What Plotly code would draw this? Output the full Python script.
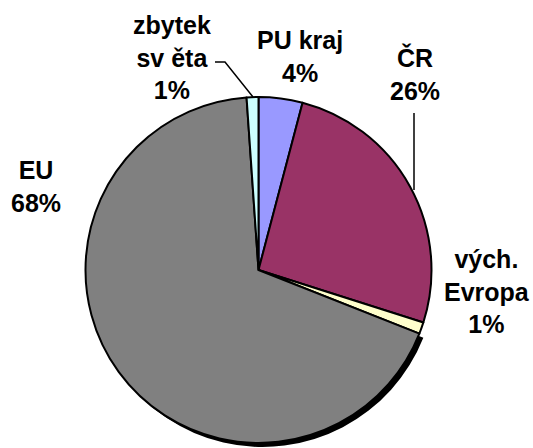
import plotly.graph_objects as go

labels = ["PU kraj", "ČR", "vých. Evropa", "EU", "zbytek světa"]
values = [4.1, 25.8, 1.1, 67.9, 1.1]
pct_labels = ["4%", "26%", "1%", "68%", "1%"]
colors = ["#9999FF", "#993366", "#FFFFCC", "#808080", "#CCFFFF"]
shadow_colors = ["rgba(0,0,0,0)", "rgba(0,0,0,0)", "rgba(0,0,0,0)", "#000000", "rgba(0,0,0,0)"]
label_text = ["PU kraj", "ČR", "vých.<br>Evropa", "EU", "zbytek<br>sv ěta"]

W, H = 533, 448
cx, cy, r = 258.5, 270, 173
sh = 4  # shadow offset px


def px_x(x):
    return x / W


def px_y(y):
    return 1 - y / H


fig = go.Figure()
# shadow pie (only EU slice casts a shadow)
fig.add_trace(go.Pie(
    labels=labels, values=values, sort=False, direction="clockwise", rotation=0,
    marker=dict(colors=shadow_colors, line=dict(width=0)),
    textinfo="none", hoverinfo="skip", showlegend=False,
    domain=dict(x=[px_x(cx - r + sh), px_x(cx + r + sh)], y=[px_y(cy + r + sh), px_y(cy - r + sh)]),
))
fig.add_trace(go.Pie(
    labels=labels, values=values, sort=False, direction="clockwise", rotation=0,
    marker=dict(colors=colors, line=dict(color="#000000", width=2)),
    textinfo="none", showlegend=False,
    domain=dict(x=[px_x(cx - r), px_x(cx + r)], y=[px_y(cy + r), px_y(cy - r)]),
))

font = dict(family="Liberation Sans, Arial, sans-serif", size=25, color="#000000")
label_pos = {
    "PU kraj": (300, 56),
    "ČR": (415, 74),
    "vých. Evropa": (487, 291),
    "EU": (36, 186),
    "zbytek světa": (172, 58),
}
for lab, txt, pct in zip(labels, label_text, pct_labels):
    x, y = label_pos[lab]
    fig.add_annotation(
        x=px_x(x), y=px_y(y), xref="paper", yref="paper",
        text="<b>" + txt + "<br>" + pct + "</b>", showarrow=False,
        xanchor="center", yanchor="middle", font=font, align="center",
    )

# leader lines
fig.add_shape(type="path", xref="paper", yref="paper",
              path=f"M {px_x(215)} {px_y(62)} L {px_x(225)} {px_y(62)} L {px_x(253)} {px_y(97)}",
              line=dict(color="#000000", width=1.5))
fig.add_shape(type="line", xref="paper", yref="paper",
              x0=px_x(414), y0=px_y(113), x1=px_x(414), y1=px_y(190),
              line=dict(color="#000000", width=1.5))

fig.update_layout(
    width=W, height=H, margin=dict(l=0, r=0, t=0, b=0),
    paper_bgcolor="#FFFFFF", plot_bgcolor="#FFFFFF",
)
fig.write_html("out.html", config={"displayModeBar": False},
               post_script="document.body.style.margin='0px';")
